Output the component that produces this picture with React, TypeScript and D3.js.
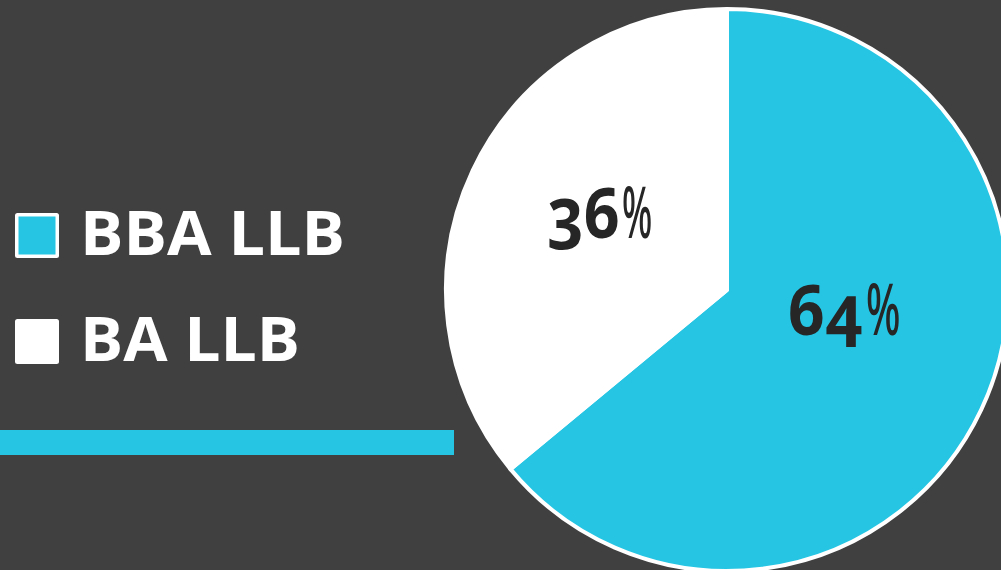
import React from "react";
import * as d3 from "d3";

const categories = ["BBA LLB", "BA LLB"];
const values = [64, 36];
const colors = ["#25C5E3", "#FFFFFF"];
const labelNumbers = ["64", "36"];

const W = 1001;
const H = 570;

export default function App() {
  const cx = 727;
  const cy = 290;
  const r = 281;
  const pie = d3.pie<number>().sort(null).value((d) => d);
  const arcs = pie(values);
  const arc = d3.arc<d3.PieArcDatum<number>>().innerRadius(0).outerRadius(r);

  const labelPos = [
    { x: 788, y: 335, numScale: 0.92, pctX: 866, pctScale: 0.57 },
    { x: 547, y: 238, numScale: 0.9, pctX: 622, pctScale: 0.5 },
  ];

  return (
    <svg
      width={W}
      height={H}
      style={{ position: "absolute", left: 0, top: 0, display: "block" }}
      fontFamily="'Open Sans', sans-serif"
    >
      <rect x={0} y={0} width={W} height={H} fill="#404040" />
      <g transform={`translate(${cx},${cy})`}>
        {arcs.map((a, i) => (
          <path key={i} d={arc(a) || ""} fill={colors[i]} stroke="#FFFFFF" strokeWidth={4} strokeLinejoin="round" />
        ))}
      </g>
      {arcs.map((a, i) => (
        <g key={"l" + i} fill="#262626" fontFamily="'Noto Sans', sans-serif">
          <text
            transform={`translate(${labelPos[i].x},${labelPos[i].y}) scale(${labelPos[i].numScale},1)`}
            fontWeight={700}
            fontSize={70}
            style={{ fontVariantNumeric: "oldstyle-nums", fontFeatureSettings: "'onum' 1" }}
          >
            {labelNumbers[i]}
          </text>
          <text
            transform={`translate(${labelPos[i].pctX},${labelPos[i].y}) scale(${labelPos[i].pctScale},1)`}
            fontWeight={500}
            fontSize={71}
          >
            %
          </text>
        </g>
      ))}
      {categories.map((c, i) => {
        const y0 = 213 + i * 106;
        return (
          <g key={c}>
            <rect x={15} y={y0} width={44} height={45} rx={2.5} fill="#FFFFFF" />
            {i === 0 && <rect x={18.5} y={y0 + 3.5} width={37} height={38} fill={colors[0]} />}
            <text
              x={80}
              y={y0 + 42}
              fontWeight={700}
              fontSize={60}
              fill="#FFFFFF"
              textLength={i === 0 ? 265 : 220}
              lengthAdjust="spacingAndGlyphs"
            >
              {c}
            </text>
          </g>
        );
      })}
      <rect x={0} y={430} width={454} height={25} fill={colors[0]} />
    </svg>
  );
}
